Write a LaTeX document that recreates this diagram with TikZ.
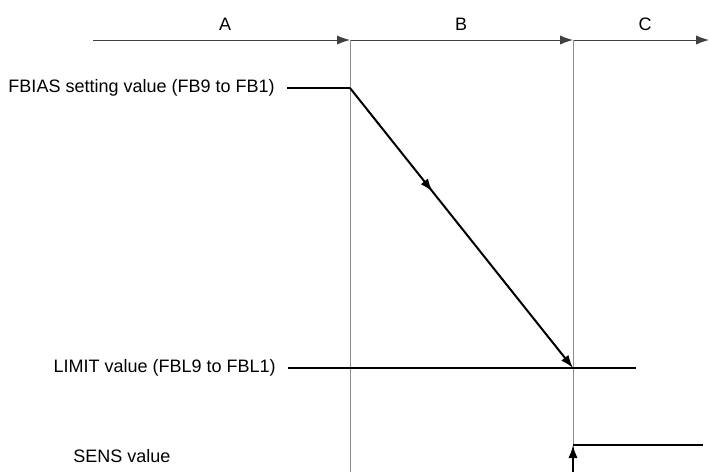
\documentclass[tikz,border=0pt]{standalone}
\usepackage{fontspec}
\setmainfont{Liberation Sans}
\usetikzlibrary{arrows.meta,decorations.markings}
\tikzset{
  axis/.style={black!75,line width=0.5pt},
  guide/.style={black!45,line width=0.5pt},
  signal/.style={black,line width=1pt},
  tip/.style={-{Latex[length=6.5pt,width=4.6pt]}},
  midtip/.style={postaction={decorate},decoration={markings,
    mark=at position 0.37 with {\arrow{Latex[length=6.5pt,width=4.6pt]}}}},
  lbl/.style={anchor=east,inner xsep=6pt,inner ysep=0pt}
}
\begin{document}
\begin{tikzpicture}[x=0.5pt,y=-0.5pt,font=\fontsize{9}{11}\selectfont]
\useasboundingbox (0,0) rectangle (710,472);
\coordinate (t0) at (93,40);
\coordinate (t1) at (350,40);
\coordinate (t2) at (573,40);
\coordinate (t3) at (709,40);
\coordinate (b1) at (350,472);
\coordinate (b2) at (573,472);
\draw[axis,tip] (t0) -- (t1);
\draw[axis,tip] (t1) -- (t2);
\draw[axis,tip] (t2) -- (t3);
\node (secA) at (225,24) {A};
\node (secB) at (461,24) {B};
\node (secC) at (645,24) {C};
\draw[guide] (t1) -- (b1);
\draw[guide] (t2) -- (b2);
\node[lbl] (fbias) at (287,88) {FBIAS setting value (FB9 to FB1)};
\node[lbl] (limit) at (288,368) {LIMIT value (FBL9 to FBL1)};
\node[anchor=west,inner sep=0pt] (sens) at (73,456) {SENS value};
\coordinate (f1) at (350,88);
\coordinate (l1) at (573,368);
\coordinate (l2) at (636,368);
\draw[signal] (fbias.east) -- (f1);
\draw[signal,tip,midtip] (f1) -- (l1);
\draw[signal] (limit.east) -- (l2);
\coordinate (s1) at (573,445);
\coordinate (s2) at (703,445);
\draw[signal,tip] (b2) -- (s1);
\draw[signal] (s1) -- (s2);
\end{tikzpicture}
\end{document}
